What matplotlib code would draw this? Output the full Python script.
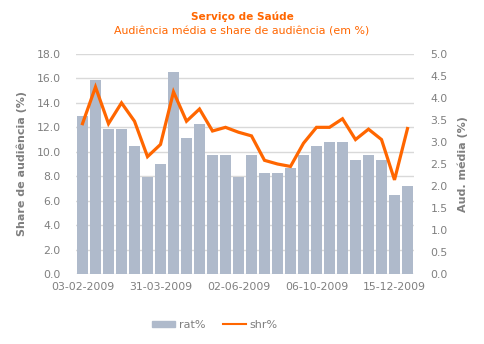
import matplotlib
matplotlib.use("Agg")
import matplotlib.pyplot as plt
import numpy as np
from matplotlib.patches import Patch
from matplotlib.lines import Line2D

# weekly values, 26 programmes
rat = [3.6, 4.4, 3.3, 3.3, 2.9, 2.2, 2.5, 4.6, 3.1, 3.4, 2.7, 2.7, 2.2,
       2.7, 2.3, 2.3, 2.4, 2.7, 2.9, 3.0, 3.0, 2.6, 2.7, 2.6, 1.8, 2.0]
shr = [12.3, 15.3, 12.3, 14.0, 12.5, 9.6, 10.6, 14.9, 12.5, 13.5, 11.7, 12.0, 11.6,
       11.3, 9.3, 9.0, 8.8, 10.7, 12.0, 12.0, 12.7, 11.0, 11.85, 11.0, 7.7, 11.9]
tick_pos = [0, 6, 12, 18, 24]
tick_labels = ["03-02-2009", "31-03-2009", "02-06-2009", "06-10-2009", "15-12-2009"]

orange = "#FF6600"
bar_col = "#AFBACB"
grey = "#7F7F7F"
plt.rcParams["font.family"] = "DejaVu Sans"

fig = plt.figure(figsize=(4.84, 3.44), dpi=100)
ax = fig.add_axes([76 / 484, 1 - 274 / 344, 338 / 484, 220 / 344])
ax2 = ax.twinx()

x = np.arange(len(rat))
ax2.bar(x, rat, width=0.85, color=bar_col, zorder=2)
ax.plot(x, shr, color=orange, lw=2.3, zorder=5, solid_joinstyle="miter")

# line above bars
ax.set_zorder(ax2.get_zorder() + 1)
ax.patch.set_visible(False)

ax.set_xlim(-0.5, len(rat) - 0.5)
ax.set_ylim(0, 18)
ax2.set_ylim(0, 5)
ax.set_yticks(np.arange(0, 18.1, 2))
ax.set_yticklabels([f"{v:.1f}" for v in np.arange(0, 18.1, 2)])
ax2.set_yticks(np.arange(0, 5.01, 0.5))
ax2.set_yticklabels([f"{v:.1f}" for v in np.arange(0, 5.01, 0.5)])
ax.set_xticks(tick_pos)
ax.set_xticklabels(tick_labels)

for a in (ax, ax2):
    for s in a.spines.values():
        s.set_visible(False)
    a.tick_params(length=0, colors=grey, labelsize=7.8)
ax.tick_params(axis="y", pad=11)
ax2.tick_params(axis="y", pad=12)
ax.tick_params(axis="x", pad=6)

for v in np.arange(0, 18.1, 2):
    ax2.axhline(v / 3.6, color="#D9D9D9", lw=1, zorder=0)

ax.set_ylabel("Share de audiência (%)", color=grey, fontsize=8, fontweight="bold", labelpad=7)
ax2.set_ylabel("Aud. média (%)", color=grey, fontsize=8, fontweight="bold", rotation=90, labelpad=7)

fig.text(0.5, 1 - 17 / 344, "Serviço de Saúde", ha="center", va="center",
         color=orange, fontsize=7.6, fontweight="bold")
fig.text(0.5, 1 - 31 / 344, "Audiência média e share de audiência (em %)", ha="center", va="center",
         color=orange, fontsize=7.9)

handles = [Patch(color=bar_col), Line2D([0], [0], color=orange, lw=1.5)]
fig.legend(handles, ["rat%", "shr%"], loc="center", bbox_to_anchor=(215 / 484, 1 - 325 / 344),
           ncol=2, frameon=False, fontsize=8, labelcolor=grey,
           handlelength=2.1, handleheight=0.5, columnspacing=1.6, handletextpad=0.3)

fig.savefig("out.png", dpi=100)
